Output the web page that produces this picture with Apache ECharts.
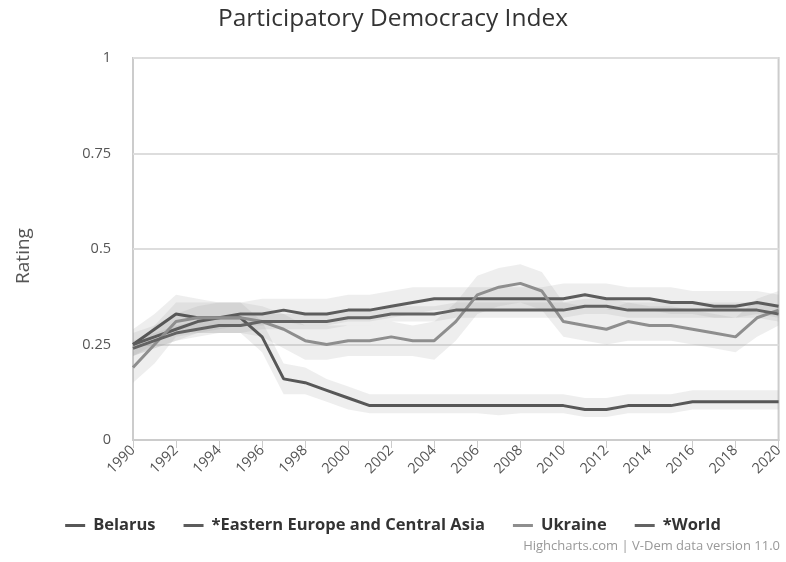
<!DOCTYPE html>
<html>
<head>
<meta charset="utf-8">
<script src="https://cdn.jsdelivr.net/npm/echarts@6/dist/echarts.min.js"></script>
<style>
  html, body { margin: 0; padding: 0; background: #fff; }
  #chart { width: 786px; height: 562px; }
</style>
</head>
<body>
<div id="chart"></div>
<script>
// Years on the x axis
const years = ['1990','1991','1992','1993','1994','1995','1996','1997','1998','1999',
  '2000','2001','2002','2003','2004','2005','2006','2007','2008','2009',
  '2010','2011','2012','2013','2014','2015','2016','2017','2018','2019','2020'];

// Index values (point estimates) and their confidence intervals
const belarus = [0.25,0.29,0.33,0.32,0.32,0.32,0.27,0.16,0.15,0.13,0.11,0.09,0.09,0.09,0.09,0.09,0.09,0.09,0.09,0.09,0.09,0.08,0.08,0.09,0.09,0.09,0.10,0.10,0.10,0.10,0.10];
const belarusLow = [0.22,0.25,0.29,0.28,0.28,0.28,0.23,0.12,0.12,0.10,0.08,0.07,0.07,0.07,0.07,0.07,0.07,0.065,0.07,0.07,0.07,0.06,0.06,0.07,0.07,0.07,0.08,0.08,0.08,0.08,0.08];
const belarusHigh = [0.29,0.33,0.38,0.37,0.36,0.36,0.31,0.20,0.19,0.16,0.14,0.12,0.12,0.12,0.12,0.12,0.12,0.12,0.12,0.12,0.12,0.11,0.11,0.12,0.12,0.12,0.13,0.13,0.13,0.13,0.13];

const eeca = [0.25,0.27,0.29,0.31,0.32,0.33,0.33,0.34,0.33,0.33,0.34,0.34,0.35,0.36,0.37,0.37,0.37,0.37,0.37,0.37,0.37,0.38,0.37,0.37,0.37,0.36,0.36,0.35,0.35,0.36,0.35];
const eecaLow = [0.22,0.24,0.26,0.28,0.29,0.30,0.30,0.31,0.30,0.30,0.31,0.31,0.32,0.33,0.34,0.34,0.34,0.34,0.34,0.34,0.34,0.35,0.34,0.34,0.34,0.33,0.33,0.32,0.32,0.33,0.32];
const eecaHigh = [0.28,0.30,0.33,0.35,0.36,0.36,0.37,0.37,0.37,0.37,0.38,0.38,0.39,0.40,0.40,0.40,0.40,0.40,0.40,0.40,0.41,0.41,0.41,0.40,0.40,0.40,0.39,0.39,0.39,0.39,0.38];

const ukraine = [0.19,0.25,0.31,0.32,0.32,0.32,0.31,0.29,0.26,0.25,0.26,0.26,0.27,0.26,0.26,0.31,0.38,0.40,0.41,0.39,0.31,0.30,0.29,0.31,0.30,0.30,0.29,0.28,0.27,0.32,0.34];
const ukraineLow = [0.15,0.20,0.27,0.28,0.28,0.28,0.27,0.24,0.21,0.21,0.22,0.22,0.22,0.22,0.21,0.26,0.33,0.35,0.36,0.34,0.27,0.26,0.25,0.26,0.26,0.26,0.25,0.24,0.23,0.27,0.30];
const ukraineHigh = [0.23,0.30,0.36,0.36,0.36,0.36,0.35,0.33,0.30,0.30,0.30,0.30,0.31,0.30,0.31,0.36,0.43,0.45,0.46,0.44,0.36,0.35,0.34,0.36,0.35,0.35,0.34,0.33,0.32,0.37,0.39];

const world = [0.24,0.26,0.28,0.29,0.30,0.30,0.31,0.31,0.31,0.31,0.32,0.32,0.33,0.33,0.33,0.34,0.34,0.34,0.34,0.34,0.34,0.35,0.35,0.34,0.34,0.34,0.34,0.34,0.34,0.34,0.33];
const worldLow = [0.22,0.24,0.26,0.27,0.28,0.28,0.29,0.29,0.29,0.29,0.30,0.30,0.31,0.31,0.31,0.32,0.32,0.32,0.32,0.32,0.32,0.33,0.33,0.32,0.32,0.32,0.32,0.32,0.32,0.32,0.31];
const worldHigh = [0.26,0.28,0.30,0.31,0.32,0.32,0.33,0.33,0.33,0.33,0.34,0.34,0.35,0.35,0.35,0.36,0.36,0.36,0.36,0.36,0.36,0.37,0.37,0.36,0.36,0.36,0.36,0.36,0.36,0.36,0.35];

const yTicks = [0, 0.25, 0.5, 0.75, 1];

const FONT = '"Open Sans", "DejaVu Sans", sans-serif';

const groups = [
  { name: 'Belarus', values: belarus, low: belarusLow, high: belarusHigh, color: '#575757' },
  { name: '*Eastern Europe and Central Asia', values: eeca, low: eecaLow, high: eecaHigh, color: '#5c5c5c' },
  { name: 'Ukraine', values: ukraine, low: ukraineLow, high: ukraineHigh, color: '#8e8e8e' },
  { name: '*World', values: world, low: worldLow, high: worldHigh, color: '#636363' }
];

const series = [];
// Confidence bands: an invisible lower edge with the width stacked on top
groups.forEach((g, i) => {
  const stackId = 'band' + i;
  series.push({
    type: 'line', stack: stackId, data: g.low, symbol: 'none', silent: true,
    lineStyle: { opacity: 0 }, z: 1
  });
  series.push({
    type: 'line', stack: stackId, data: g.high.map((h, k) => +(h - g.low[k]).toFixed(4)),
    symbol: 'none', silent: true, lineStyle: { opacity: 0 },
    areaStyle: { color: 'rgba(160,160,160,0.26)' }, z: 1
  });
});
// Point-estimate lines
groups.forEach(g => {
  series.push({
    name: g.name, type: 'line', data: g.values, symbol: 'none',
    lineStyle: { color: g.color, width: 3 }, itemStyle: { color: g.color }, z: 5
  });
});

const chart = echarts.init(document.getElementById('chart'));
chart.setOption({
  animation: false,
  backgroundColor: '#fff',
  title: {
    text: 'Participatory Democracy Index', left: 'center', top: 2,
    textStyle: { fontFamily: FONT, fontSize: 24.5, fontWeight: 'normal', color: '#333' }
  },
  grid: { left: 133, right: 5, top: 58, bottom: 122, show: true, borderColor: '#cccccc', borderWidth: 2 },
  xAxis: {
    type: 'category', data: years, boundaryGap: false,
    axisLine: { lineStyle: { color: '#cccccc', width: 2 } },
    axisTick: { show: true, interval: 1, length: 8, lineStyle: { color: '#cccccc', width: 1 } },
    axisLabel: { interval: 1, rotate: 45, fontFamily: FONT, fontSize: 14.5, color: '#555', margin: 8 }
  },
  yAxis: {
    type: 'value', min: yTicks[0], max: yTicks[yTicks.length - 1], interval: 0.25,
    name: 'Rating', nameLocation: 'middle', nameGap: 100, nameRotate: 90,
    nameTextStyle: { fontFamily: FONT, fontSize: 19, color: '#555', padding: [0, 14, 0, 0] },
    axisLine: { show: false }, axisTick: { show: false },
    axisLabel: { fontFamily: FONT, fontSize: 14.5, color: '#555', margin: 22 },
    splitLine: { lineStyle: { color: '#dddddd', width: 2 } }
  },
  legend: {
    data: groups.map(g => g.name), left: 'center', top: 512,
    icon: 'rect', itemWidth: 20, itemHeight: 3, itemGap: 28,
    textStyle: { fontFamily: FONT, fontSize: 16.5, fontWeight: 'bold', color: '#333', padding: [0, 0, 0, 3] }
  },
  graphic: [{
    type: 'text', right: 6, top: 540,
    style: { text: 'Highcharts.com | V-Dem data version 11.0', font: '13px ' + FONT, fill: '#999' }
  }],
  series: series
});
</script>
</body>
</html>
